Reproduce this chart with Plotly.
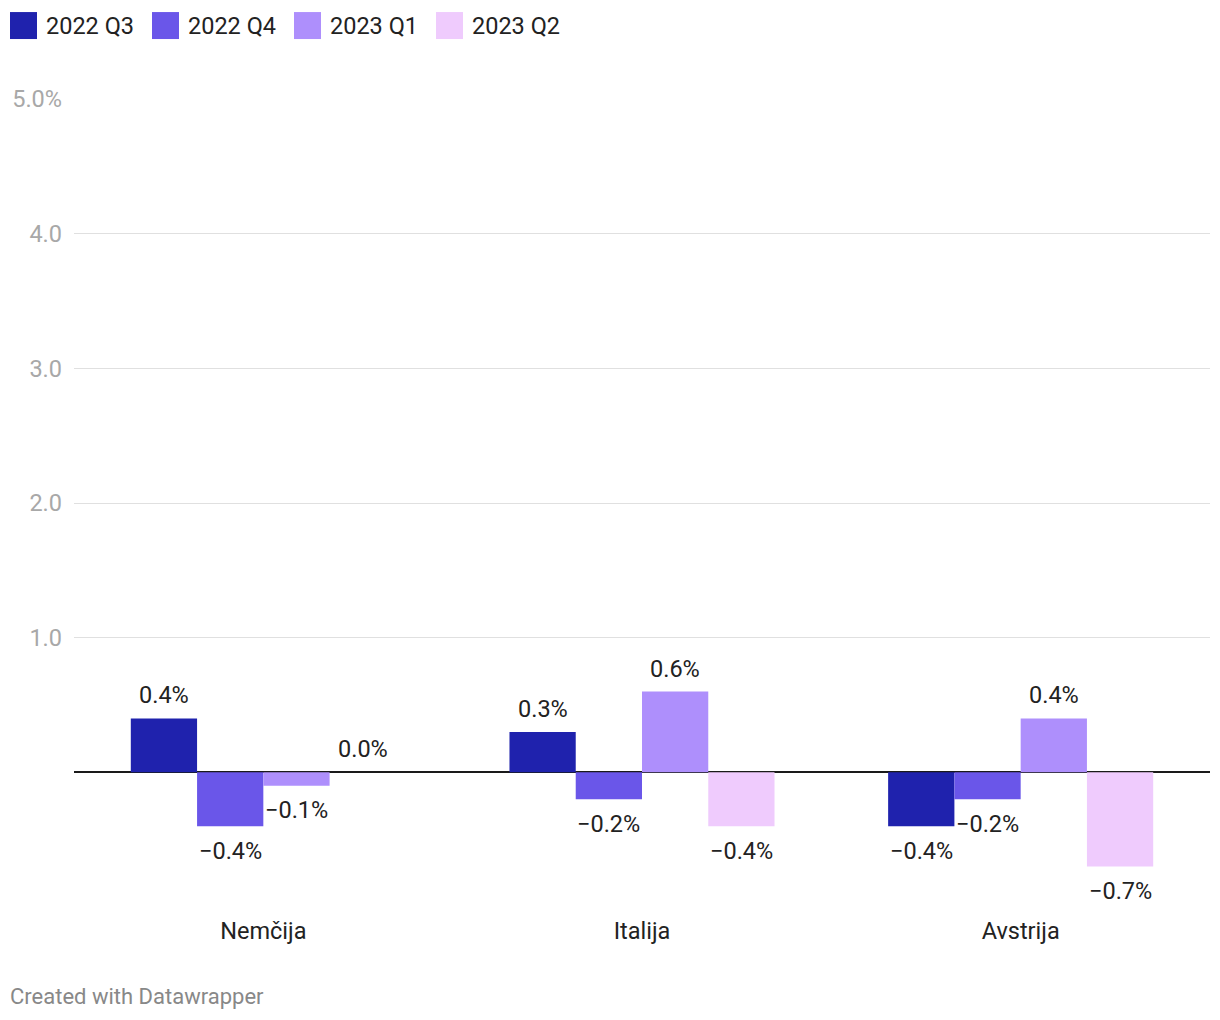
import plotly.graph_objects as go

# ---- data ----
categories = ["Nemčija", "Italija", "Avstrija"]
series_names = ["2022 Q3", "2022 Q4", "2023 Q1", "2023 Q2"]
values_q3_2022 = [0.4, 0.3, -0.4]
values_q4_2022 = [-0.4, -0.2, -0.2]
values_q1_2023 = [-0.1, 0.6, 0.4]
values_q2_2023 = [0.0, -0.4, -0.7]
series_values = [values_q3_2022, values_q4_2022, values_q1_2023, values_q2_2023]
colors = ["#1f22ad", "#6a56e9", "#ae8ffc", "#efcbfd"]
y_tickvals = [1, 2, 3, 4, 5]
y_ticktext = ["1.0", "2.0", "3.0", "4.0", "5.0%"]

# ---- layout geometry ----
W, H = 1220, 1020
ML, MR, MT = 74, 10, 99
Y_MIN, Y_MAX = -1.0, 5.0
PX_PER_UNIT = 134.75
plot_h = (Y_MAX - Y_MIN) * PX_PER_UNIT
MB = H - MT - plot_h
plot_w = W - ML - MR
BARGAP = 0.3
n_series = len(series_names)
bar_w = (1 - BARGAP) / n_series

FONT = "Roboto, 'Open Sans', sans-serif"
FS = 23.5

def fmt(v):
    return f"{v:.1f}%".replace("-", "\u2212")

fig = go.Figure()
for name, vals, col in zip(series_names, series_values, colors):
    fig.add_trace(go.Bar(
        name=name, x=categories, y=vals, marker=dict(color=col, line=dict(width=0)),
        showlegend=False, hoverinfo="skip"))

annotations = []
# data labels
for j, vals in enumerate(series_values):
    for i, v in enumerate(vals):
        annotations.append(dict(
            x=i + (j - (n_series - 1) / 2) * bar_w, y=v, xref="x", yref="y",
            text=fmt(v), showarrow=False, xanchor="center", yanchor="middle",
            yshift=23 if v >= 0 else -24.5,
            font=dict(family=FONT, size=FS, color="#222222")))

# legend (custom, large squares); pixel coordinates converted to paper
def px_to_paper_x(px):
    return (px - ML) / plot_w

def px_to_paper_y(py):
    return 1 + (MT - py) / plot_h

shapes = []
leg_x0, leg_step, sq = 10, 142, 27
for k, (name, col) in enumerate(zip(series_names, colors)):
    x0 = leg_x0 + k * leg_step
    shapes.append(dict(type="rect", xref="paper", yref="paper",
                       x0=px_to_paper_x(x0), x1=px_to_paper_x(x0 + sq),
                       y0=px_to_paper_y(12 + sq), y1=px_to_paper_y(12),
                       fillcolor=col, line=dict(width=0)))
    annotations.append(dict(x=px_to_paper_x(x0 + sq + 7), y=px_to_paper_y(26),
                            xref="paper", yref="paper", text=name, showarrow=False,
                            xanchor="left", yanchor="middle",
                            font=dict(family=FONT, size=FS, color="#222222")))

# footer
annotations.append(dict(x=px_to_paper_x(8), y=px_to_paper_y(997), xref="paper", yref="paper",
                        text="Created with Datawrapper", showarrow=False,
                        xanchor="left", yanchor="middle",
                        font=dict(family=FONT, size=22, color="#888888")))

fig.update_layout(
    width=W, height=H,
    margin=dict(l=ML, r=MR, t=MT, b=MB, pad=0, autoexpand=False),
    paper_bgcolor="white", plot_bgcolor="white",
    barmode="group", bargap=BARGAP, bargroupgap=0,
    showlegend=False,
    font=dict(family=FONT, size=FS, color="#222222"),
    annotations=annotations, shapes=shapes,
    xaxis=dict(showgrid=False, showline=False, ticks="", zeroline=False,
               tickfont=dict(family=FONT, size=FS, color="#222222"),
               ticklabelstandoff=7, automargin=False,
               range=[-0.5, len(categories) - 0.5]),
    yaxis=dict(range=[Y_MIN, Y_MAX], tickvals=y_tickvals, ticktext=y_ticktext,
               showgrid=True, gridcolor="#e0e0e0", gridwidth=1,
               zeroline=True, zerolinecolor="#1a1a1a", zerolinewidth=2,
               showline=False, ticks="", ticklabelstandoff=11, automargin=False,
               tickfont=dict(family=FONT, size=FS, color="#a8a8a8")),
)

fig.write_html("out.html", config={"displayModeBar": False},
               post_script="document.body.style.margin='0';document.body.style.overflow='hidden';")
